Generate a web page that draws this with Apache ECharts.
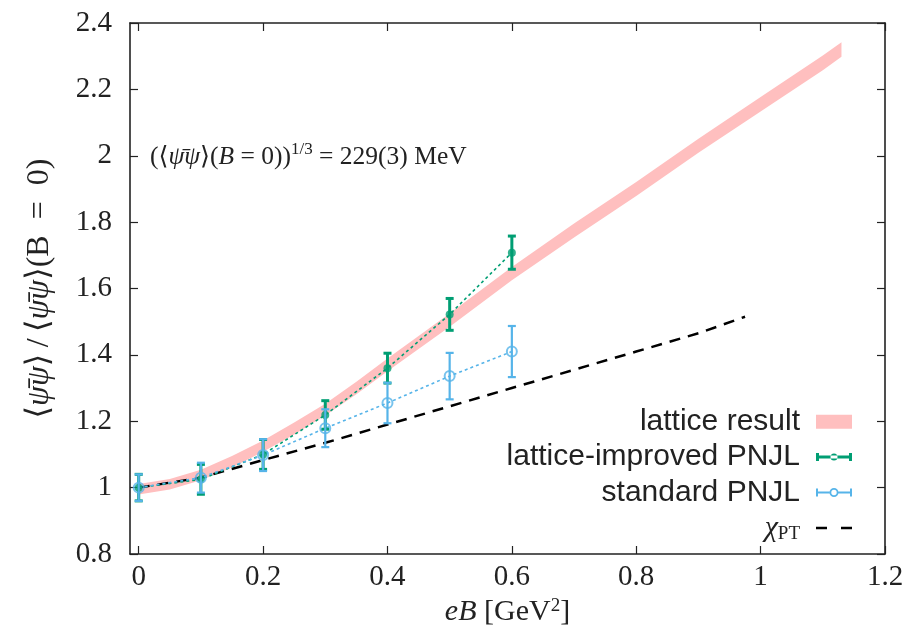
<!DOCTYPE html>
<html>
<head>
<meta charset="utf-8">
<script src="https://cdn.jsdelivr.net/npm/echarts@6/dist/echarts.min.js"></script>
<style>
  html, body { margin: 0; padding: 0; background: #fff; }
  #main { width: 924px; height: 640px; }
</style>
</head>
<body>
<div id="main"></div>
<script>
// Axis ticks
const xTicks = [0, 0.2, 0.4, 0.6, 0.8, 1, 1.2];

// Lattice result band: centre and half-width
const bandX    = [0, 0.05, 0.1, 0.15, 0.2, 0.25, 0.3, 0.35, 0.4, 0.5, 0.6, 0.7, 0.8, 0.9, 1.0, 1.1, 1.13];
const bandMid  = [0.995, 1.01, 1.038, 1.078, 1.125, 1.178, 1.235, 1.3, 1.37, 1.505, 1.645, 1.775, 1.9, 2.03, 2.155, 2.28, 2.32];
const bandHalf = [0.016, 0.016, 0.016, 0.017, 0.017, 0.018, 0.018, 0.019, 0.019, 0.02, 0.02, 0.021, 0.021, 0.021, 0.022, 0.022, 0.022];

// PNJL model points
const pnjlX        = [0, 0.1, 0.2, 0.3, 0.4, 0.5, 0.6];
const improvedVal  = [1.0, 1.025, 1.1, 1.219, 1.36, 1.522, 1.708];
const improvedErr  = [0.04, 0.045, 0.045, 0.043, 0.045, 0.048, 0.05];
const standardVal  = [1.0, 1.03, 1.098, 1.179, 1.255, 1.336, 1.41];
const standardErr  = [0.04, 0.045, 0.048, 0.057, 0.061, 0.07, 0.077];

// Chiral perturbation theory curve
const chptX   = [0, 0.1, 0.2, 0.3, 0.4, 0.5, 0.6, 0.7, 0.8, 0.9, 0.975];
const chptVal = [1.0, 1.03, 1.083, 1.135, 1.19, 1.245, 1.3, 1.355, 1.41, 1.465, 1.515];

const PINK = '#ffbfbf';
const GREEN = '#009e73';
const BLUE = '#56b4e9';
const INK = '#222';
const SERIF = '"Liberation Serif", "DejaVu Serif", serif';
const SANS = '"Liberation Sans", Arial, sans-serif';

function errorBars(color, lw, capW) {
  return function (params, api) {
    const x = api.value(0), y = api.value(1), e = api.value(2);
    const hi = api.coord([x, y + e]);
    const lo = api.coord([x, y - e]);
    const h = capW / 2;
    const st = { stroke: color, lineWidth: lw };
    return {
      type: 'group',
      children: [
        { type: 'line', shape: { x1: hi[0], y1: hi[1], x2: lo[0], y2: lo[1] }, style: st },
        { type: 'line', shape: { x1: hi[0] - h, y1: hi[1], x2: hi[0] + h, y2: hi[1] }, style: st },
        { type: 'line', shape: { x1: lo[0] - h, y1: lo[1], x2: lo[0] + h, y2: lo[1] }, style: st }
      ]
    };
  };
}

function bandPolygon(params, api) {
  if (params.dataIndex !== 0) return null;
  const pts = [];
  for (let i = 0; i < bandX.length; i++) pts.push(api.coord([bandX[i], bandMid[i] + bandHalf[i]]));
  for (let i = bandX.length - 1; i >= 0; i--) pts.push(api.coord([bandX[i], bandMid[i] - bandHalf[i]]));
  return { type: 'polygon', shape: { points: pts }, style: { fill: PINK } };
}

const greenIcon = 'path://M0,3 h36 v3 h-36 z M0,0.5 h3 v8 h-3 z M33,0.5 h3 v8 h-3 z M14.5,4.5 a3.5,3.5 0 1,0 7,0 a3.5,3.5 0 1,0 -7,0 Z';
const blueIcon = 'path://M0,3.5 h13.6 v2 h-13.6 z M22.4,3.5 h13.6 v2 h-13.6 z M0,0.5 h2 v8 h-2 z M34,0.5 h2 v8 h-2 z ' +
  'M13.5,4.5 a4.5,4.5 0 1,0 9,0 a4.5,4.5 0 1,0 -9,0 Z M15.3,4.5 a2.7,2.7 0 1,1 5.4,0 a2.7,2.7 0 1,1 -5.4,0 Z';
const dashIcon = 'path://M0,0 h11 v2.5 h-11 z M25,0 h11 v2.5 h-11 z';

const chart = echarts.init(document.getElementById('main'));

const axisLineStyle = { color: INK, width: 1.6 };
const tickStyle = { color: INK, width: 1.2 };

chart.setOption({
  animation: false,
  backgroundColor: '#fff',
  grid: { left: 130, right: 39, top: 23, bottom: 86 },
  xAxis: [
    {
      type: 'value', min: -0.014, max: 1.2, position: 'bottom',
      axisLine: { onZero: false, lineStyle: axisLineStyle },
      axisTick: { inside: true, length: 8, lineStyle: tickStyle, customValues: xTicks },
      axisLabel: { customValues: xTicks, color: INK, fontFamily: SERIF, fontSize: 29, margin: 9 },
      splitLine: { show: false },
      name: '{it|eB} [GeV{sup|2}]',
      nameLocation: 'middle', nameGap: 43,
      nameTextStyle: {
        color: INK, fontFamily: SERIF, fontSize: 30,
        rich: {
          it: { fontFamily: SERIF, fontSize: 30, fontStyle: 'italic', color: INK },
          sup: { fontFamily: SERIF, fontSize: 19, color: INK, verticalAlign: 'top' }
        }
      }
    },
    {
      type: 'value', min: -0.014, max: 1.2, position: 'top',
      axisLine: { onZero: false, lineStyle: axisLineStyle },
      axisTick: { inside: true, length: 8, lineStyle: tickStyle, customValues: xTicks },
      axisLabel: { show: false },
      splitLine: { show: false }
    }
  ],
  yAxis: [
    {
      type: 'value', min: 0.8, max: 2.4, interval: 0.2, position: 'left',
      axisLine: { show: true, onZero: false, lineStyle: axisLineStyle },
      axisTick: { show: true, inside: true, length: 8, lineStyle: tickStyle },
      axisLabel: { color: INK, fontFamily: SERIF, fontSize: 29, margin: 18 },
      splitLine: { show: false },
      name: '⟨{it|ψ̄ψ}⟩\u2009/\u2009⟨{it|ψ̄ψ}⟩(B\u2002=\u20020)',
      nameLocation: 'middle', nameGap: 74, nameRotate: 90,
      nameTextStyle: {
        color: INK, fontFamily: SERIF, fontSize: 32,
        rich: {
          it: { fontFamily: SERIF, fontSize: 32, fontStyle: 'italic', color: INK }
        }
      }
    },
    {
      type: 'value', min: 0.8, max: 2.4, interval: 0.2, position: 'right',
      axisLine: { show: true, onZero: false, lineStyle: axisLineStyle },
      axisTick: { show: true, inside: true, length: 8, lineStyle: tickStyle },
      axisLabel: { show: false },
      splitLine: { show: false }
    }
  ],
  legend: {
    orient: 'vertical', align: 'right',
    right: 72, top: 404, padding: 0, itemGap: 0,
    itemWidth: 36, itemHeight: 14,
    selectedMode: false,
    textStyle: {
      color: INK, fontFamily: SANS, fontSize: 30, lineHeight: 35.4, padding: [0, 11, 0, 0],
      rich: {
        chi: { fontFamily: SERIF, fontSize: 30, fontStyle: 'italic', color: INK, lineHeight: 35.4 },
        pt: { fontFamily: SERIF, fontSize: 19, color: INK, lineHeight: 35.4, verticalAlign: 'bottom', padding: [0, 0, 2, 0] }
      }
    },
    formatter: function (name) { return name === 'χPT' ? '{chi|χ}{pt|PT}' : name; },
    data: [
      { name: 'lattice result', icon: 'rect', itemStyle: { color: PINK, borderWidth: 0 } },
      { name: 'lattice-improved PNJL', icon: greenIcon, itemStyle: { color: GREEN, borderWidth: 0 } },
      { name: 'standard PNJL', icon: blueIcon, itemStyle: { color: BLUE, borderWidth: 0 } },
      { name: 'χPT', icon: dashIcon, itemStyle: { color: '#000', borderWidth: 0 } }
    ]
  },
  graphic: [
    {
      type: 'text', left: 150, top: 141, z: 10,
      style: {
        text: '(⟨{it|ψ̄ψ}⟩({it|B} = 0)){sup|1/3} = 229(3) MeV',
        fill: INK, font: '25.5px ' + SERIF, lineHeight: 33,
        rich: {
          it: { fontFamily: SERIF, fontSize: 25.5, fontStyle: 'italic', fill: INK, lineHeight: 33 },
          sup: { fontFamily: SERIF, fontSize: 17, fill: INK, lineHeight: 33, verticalAlign: 'top' }
        }
      }
    }
  ],
  series: [
    {
      name: 'lattice result', type: 'custom', z: 1, clip: true,
      renderItem: bandPolygon,
      data: bandX.map((x, i) => [x, bandMid[i]]),
      itemStyle: { color: PINK }
    },
    {
      name: 'χPT', type: 'line', z: 2, symbol: 'none',
      data: chptX.map((x, i) => [x, chptVal[i]]),
      lineStyle: { color: '#000', width: 2.5, type: [11, 8] },
      itemStyle: { color: '#000' }
    },
    {
      name: 'lattice-improved PNJL', type: 'line', z: 3,
      data: pnjlX.map((x, i) => [x, improvedVal[i]]),
      lineStyle: { color: GREEN, width: 1.6, type: [3, 3] },
      symbol: 'none',
      itemStyle: { color: GREEN }
    },
    {
      name: 'standard PNJL', type: 'line', z: 3,
      data: pnjlX.map((x, i) => [x, standardVal[i]]),
      lineStyle: { color: BLUE, width: 1.6, type: [3, 3] },
      symbol: 'none',
      itemStyle: { color: BLUE }
    },
    {
      name: 'lattice-improved PNJL', type: 'custom', z: 4,
      renderItem: errorBars(GREEN, 3, 8),
      encode: { x: 0, y: 1 },
      data: pnjlX.map((x, i) => [x, improvedVal[i], improvedErr[i]])
    },
    {
      name: 'lattice-improved PNJL', type: 'scatter', z: 5,
      symbol: 'circle', symbolSize: 8,
      data: pnjlX.map((x, i) => [x, improvedVal[i]]),
      itemStyle: { color: GREEN }
    },
    {
      name: 'standard PNJL', type: 'custom', z: 6,
      renderItem: errorBars(BLUE, 2.2, 8),
      encode: { x: 0, y: 1 },
      data: pnjlX.map((x, i) => [x, standardVal[i], standardErr[i]])
    },
    {
      name: 'standard PNJL', type: 'scatter', z: 7,
      symbol: 'circle', symbolSize: 10,
      data: pnjlX.map((x, i) => [x, standardVal[i]]),
      itemStyle: { color: 'rgba(255,255,255,0)', borderColor: BLUE, borderWidth: 2 }
    }
  ]
});
</script>
</body>
</html>
